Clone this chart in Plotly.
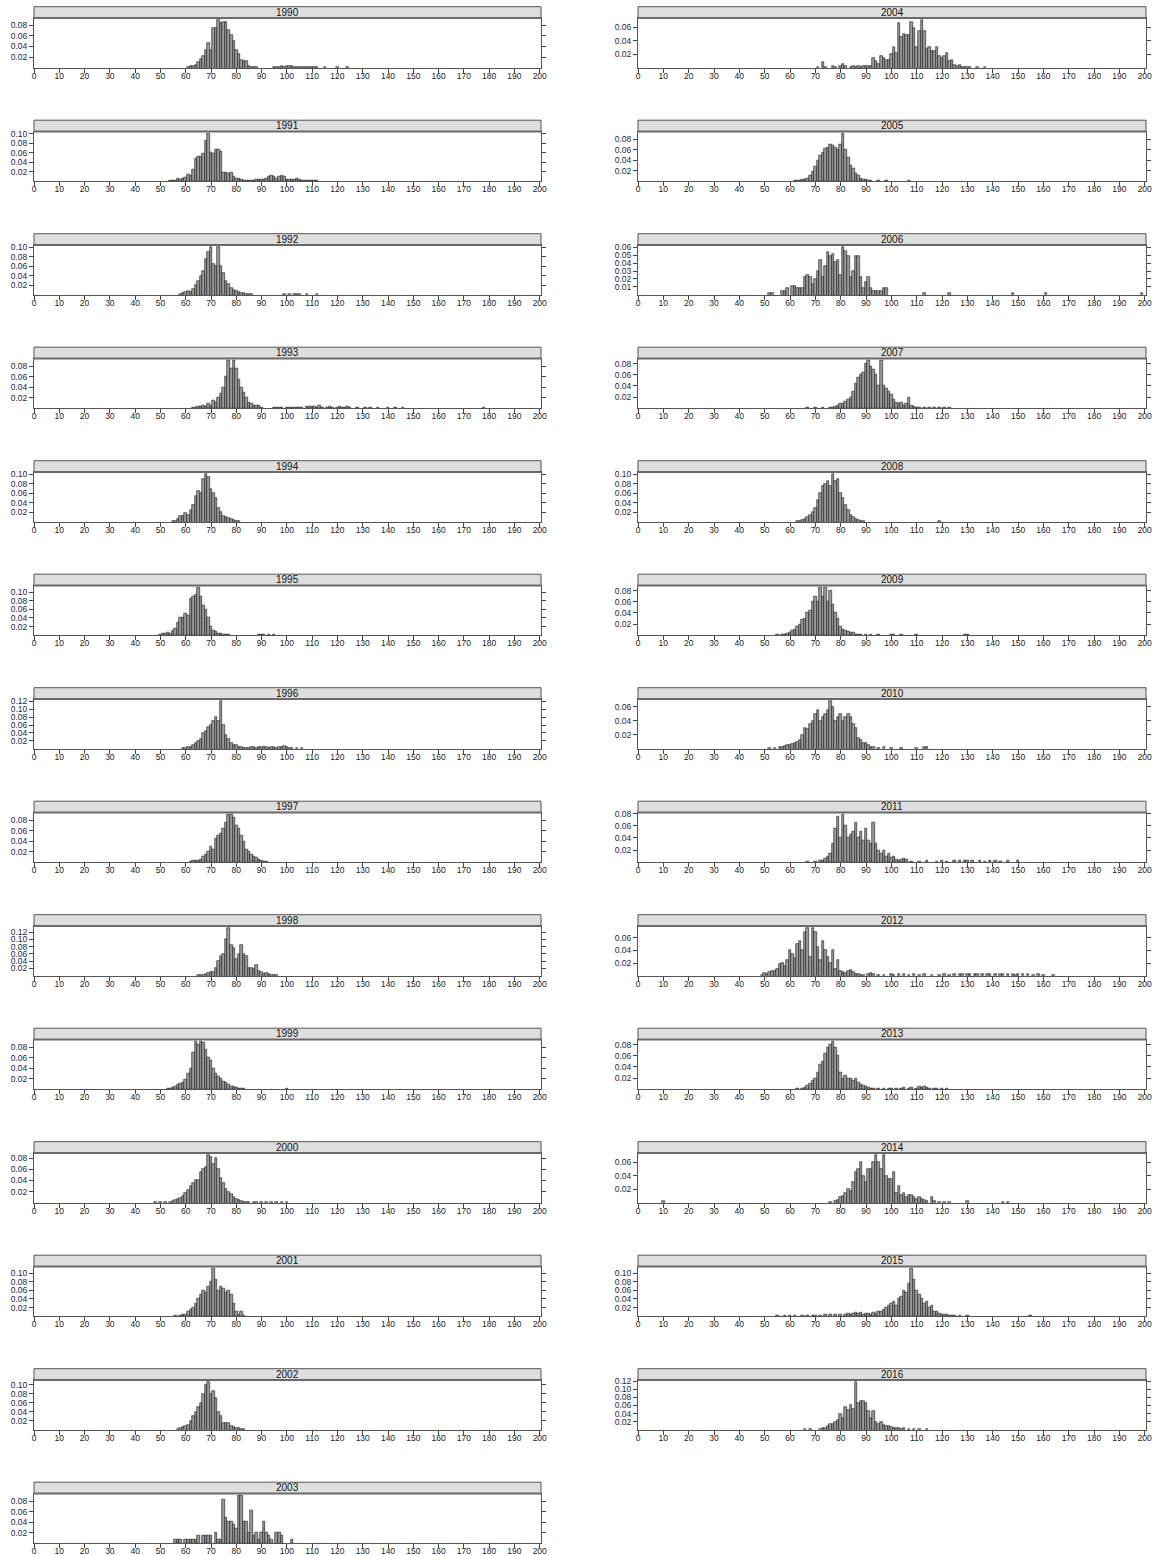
import plotly.graph_objects as go

# ---------------- data: length (cm) and relative frequency per year ----------------
L1990 = [61,62,63,64,65,66,67,68,69,70,71,72,73,74,75,76,77,78,79,80,81,82,83,84,85,86,87,88,95,96,97,98,99,100,101,102,103,104,105,106,107,108,109,110,111,112,115,120,124]
F1990 = [.002,.003,.004,.006,.010,.016,.022,.033,.047,.033,.075,.074,.089,.084,.085,.085,.070,.062,.050,.033,.025,.015,.013,.012,.004,.002,.001,.001,.001,.002,.001,.003,.002,.004,.003,.003,.002,.002,.002,.002,.001,.002,.001,.002,.001,.001,.001,.001,.001]

L1991 = [54,55,56,57,58,59,60,61,62,63,64,65,66,67,68,69,70,71,72,73,74,75,76,77,78,79,80,81,82,83,84,85,86,87,88,89,90,91,92,93,94,95,96,97,98,99,100,101,102,103,104,105,106,107,108,109,110,111,112]
F1991 = [.001,.001,.002,.005,.004,.006,.008,.015,.013,.025,.048,.052,.053,.058,.085,.100,.060,.058,.068,.068,.062,.018,.018,.017,.018,.010,.006,.005,.003,.002,.002,.001,.002,.002,.003,.003,.003,.004,.006,.010,.011,.009,.006,.010,.013,.010,.004,.003,.004,.003,.006,.003,.002,.002,.001,.001,.001,.001,.001]

L1992 = [58,59,60,61,62,63,64,65,66,67,68,69,70,71,72,73,74,75,76,77,78,79,80,81,82,83,84,85,86,99,101,103,104,105,108,112]
F1992 = [.002,.004,.006,.008,.006,.012,.020,.030,.040,.050,.075,.090,.100,.065,.060,.100,.060,.045,.030,.022,.015,.010,.008,.005,.004,.003,.002,.002,.001,.001,.001,.002,.001,.001,.001,.001]

L1993 = [63,64,65,66,67,68,69,70,71,72,73,74,75,76,77,78,79,80,81,82,83,84,85,86,87,88,89,90,95,96,97,98,100,101,102,103,104,105,106,108,109,110,111,112,113,114,116,117,118,120,121,122,123,124,125,128,131,133,136,140,143,146,178]
F1993 = [.002,.002,.003,.004,.005,.004,.008,.006,.015,.010,.020,.028,.040,.060,.090,.075,.090,.075,.055,.040,.030,.020,.010,.008,.006,.005,.006,.002,.001,.002,.002,.001,.001,.002,.002,.001,.002,.001,.002,.004,.003,.004,.003,.002,.005,.002,.002,.003,.001,.001,.003,.002,.001,.004,.002,.002,.001,.001,.001,.001,.001,.001,.002]

L1994 = [55,56,57,58,59,60,61,62,63,64,65,66,67,68,69,70,71,72,73,74,75,76,77,78,79,80,81]
F1994 = [.001,.002,.005,.012,.013,.018,.015,.025,.035,.055,.065,.060,.090,.100,.095,.070,.060,.050,.030,.020,.012,.010,.008,.005,.003,.002,.001]

L1995 = [50,51,52,53,54,55,56,57,58,59,60,61,62,63,64,65,66,67,68,69,70,71,72,73,74,75,76,77,89,90,91,93,95]
F1995 = [.001,.003,.005,.007,.005,.010,.015,.030,.040,.040,.050,.045,.085,.090,.095,.110,.090,.070,.060,.040,.020,.010,.008,.004,.003,.002,.001,.001,.001,.002,.002,.001,.001]

L1996 = [59,60,61,62,63,64,65,66,67,68,69,70,71,72,73,74,75,76,77,78,79,80,81,82,83,84,85,86,87,88,89,90,91,92,93,94,95,96,97,98,99,100,101,102,104,106]
F1996 = [.001,.002,.004,.005,.010,.015,.020,.025,.040,.045,.055,.060,.070,.080,.070,.120,.060,.035,.025,.015,.010,.010,.005,.004,.003,.003,.002,.005,.004,.003,.004,.005,.004,.005,.003,.005,.004,.003,.005,.004,.006,.004,.002,.001,.001,.001]

L1997 = [62,63,64,65,66,67,68,69,70,71,72,73,74,75,76,77,78,79,80,81,82,83,84,85,86,87,88,89,90,91,92]
F1997 = [.002,.003,.004,.004,.006,.010,.015,.020,.030,.025,.045,.050,.055,.065,.075,.090,.090,.085,.070,.065,.050,.040,.025,.020,.015,.010,.008,.005,.003,.002,.001]

L1998 = [65,66,67,68,69,70,71,72,73,74,75,76,77,78,79,80,81,82,83,84,85,86,87,88,89,90,91,92,93,94,95,96]
F1998 = [.001,.002,.003,.005,.008,.010,.010,.020,.040,.055,.060,.100,.130,.085,.075,.045,.060,.085,.060,.055,.020,.020,.018,.030,.012,.010,.006,.008,.005,.003,.002,.001]

L1999 = [53,54,55,56,57,58,59,60,61,62,63,64,65,66,67,68,69,70,71,72,73,74,75,76,77,78,79,80,81,82,83,100]
F1999 = [.001,.002,.004,.006,.008,.010,.012,.018,.030,.040,.070,.090,.085,.090,.088,.075,.060,.055,.040,.030,.025,.020,.015,.012,.008,.006,.005,.003,.002,.001,.001,.001]

L2000 = [48,50,52,54,55,56,57,58,59,60,61,62,63,64,65,66,67,68,69,70,71,72,73,74,75,76,77,78,79,80,81,82,83,84,85,87,88,90,92,94,96,98,100]
F2000 = [.001,.001,.002,.002,.003,.005,.006,.008,.012,.018,.022,.030,.035,.040,.040,.055,.060,.065,.085,.082,.070,.080,.060,.045,.035,.025,.020,.015,.010,.006,.004,.003,.002,.002,.001,.002,.001,.002,.001,.001,.002,.001,.001]

L2001 = [56,58,59,60,61,62,63,64,65,66,67,68,69,70,71,72,73,74,75,76,77,78,79,80,81,82,83]
F2001 = [.001,.002,.004,.005,.010,.015,.020,.030,.040,.050,.060,.055,.070,.080,.110,.085,.060,.070,.065,.055,.060,.050,.030,.010,.005,.012,.002]

L2002 = [57,58,59,60,61,62,63,64,65,66,67,68,69,70,71,72,73,74,75,76,77,78,79,80,81,82,83]
F2002 = [.002,.004,.005,.008,.010,.020,.030,.040,.050,.060,.080,.100,.105,.080,.085,.070,.040,.030,.015,.015,.015,.008,.005,.004,.003,.002,.001]

L2003 = [56,57,58,60,61,62,63,64,65,67,68,69,70,72,73,74,75,76,77,78,79,80,81,82,83,84,85,86,87,88,89,90,91,92,93,94,96,97,98,102]
F2003 = [.007,.007,.007,.007,.007,.007,.007,.007,.014,.014,.014,.014,.014,.021,.007,.007,.083,.049,.042,.042,.035,.028,.090,.090,.042,.042,.021,.063,.014,.021,.007,.021,.042,.021,.014,.007,.021,.021,.014,.007]

L2004 = [71,73,74,77,78,80,81,82,84,85,86,87,88,89,90,91,92,93,94,95,96,97,98,99,100,101,102,103,104,105,106,107,108,109,110,111,112,113,114,115,116,117,118,119,120,121,122,123,124,125,126,127,128,129,130,131,134,137]
F2004 = [.001,.008,.001,.002,.001,.002,.005,.002,.001,.002,.001,.002,.001,.003,.002,.003,.002,.015,.010,.005,.018,.015,.012,.012,.020,.030,.022,.066,.045,.050,.048,.048,.067,.058,.030,.055,.070,.055,.028,.030,.025,.024,.030,.018,.014,.018,.022,.010,.011,.004,.002,.004,.001,.001,.001,.001,.001,.001]

L2005 = [62,63,64,65,66,67,68,69,70,71,72,73,74,75,76,77,78,79,80,81,82,83,84,85,86,87,88,89,90,91,92,95,98,107]
F2005 = [.001,.001,.002,.003,.004,.006,.010,.018,.028,.040,.048,.055,.062,.065,.070,.068,.065,.060,.070,.090,.060,.045,.030,.025,.015,.010,.006,.004,.003,.002,.001,.001,.001,.001]

L2006 = [52,53,57,58,59,61,62,63,64,65,66,67,68,69,70,71,72,73,74,75,76,77,78,79,80,81,82,83,84,85,86,87,88,89,90,91,92,93,94,95,96,97,98,113,123,148,161,199]
F2006 = [.002,.002,.005,.005,.008,.011,.011,.008,.008,.008,.022,.025,.022,.013,.020,.030,.044,.022,.036,.054,.049,.051,.041,.044,.025,.060,.056,.049,.022,.030,.049,.049,.022,.008,.016,.022,.008,.005,.005,.005,.005,.008,.008,.002,.002,.002,.002,.002]

L2007 = [67,70,73,76,77,78,79,80,81,82,83,84,85,86,87,88,89,90,91,92,93,94,95,96,97,98,99,100,101,102,103,104,105,106,107,108,109,110,111,113,115,117,119,121,123]
F2007 = [.001,.001,.001,.001,.002,.003,.005,.008,.008,.012,.015,.020,.030,.045,.055,.060,.065,.080,.085,.075,.070,.060,.040,.085,.040,.035,.030,.025,.015,.010,.008,.010,.005,.008,.020,.005,.003,.002,.001,.001,.002,.002,.001,.001,.001]

L2008 = [63,64,65,66,67,68,69,70,71,72,73,74,75,76,77,78,79,80,81,82,83,84,85,86,87,88,89,119]
F2008 = [.001,.002,.003,.005,.010,.015,.020,.030,.045,.060,.075,.080,.085,.075,.100,.085,.090,.060,.050,.035,.025,.015,.010,.006,.003,.002,.001,.001]

L2009 = [55,57,58,59,60,61,62,63,64,65,66,67,68,69,70,71,72,73,74,75,76,77,78,79,80,81,82,83,84,85,86,87,88,90,92,95,100,101,104,110,129,130]
F2009 = [.001,.002,.002,.003,.005,.008,.010,.015,.020,.028,.030,.040,.045,.060,.070,.060,.085,.070,.085,.060,.080,.055,.040,.030,.015,.010,.008,.006,.005,.004,.002,.002,.001,.001,.001,.001,.001,.001,.001,.001,.002,.001]

L2010 = [52,54,56,57,58,59,60,61,62,63,64,65,66,67,68,69,70,71,72,73,74,75,76,77,78,79,80,81,82,83,84,85,86,87,88,89,90,91,92,93,95,97,100,104,110,113,114]
F2010 = [.001,.001,.002,.003,.004,.005,.006,.007,.008,.010,.012,.020,.030,.028,.035,.040,.050,.055,.040,.045,.050,.055,.068,.060,.040,.045,.050,.040,.045,.050,.045,.035,.030,.015,.012,.008,.008,.006,.003,.002,.001,.002,.001,.001,.001,.003,.002]

L2011 = [67,70,72,73,74,75,76,77,78,79,80,81,82,83,84,85,86,87,88,89,90,91,92,93,94,95,96,97,98,99,100,101,102,103,104,105,106,108,111,114,118,120,122,125,127,129,130,132,135,137,139,141,143,146,150]
F2011 = [.001,.001,.002,.003,.006,.010,.015,.030,.055,.075,.040,.078,.060,.040,.045,.050,.065,.040,.050,.035,.055,.035,.030,.065,.030,.020,.015,.020,.010,.015,.008,.010,.005,.003,.004,.006,.004,.001,.001,.002,.001,.002,.001,.002,.003,.002,.002,.002,.002,.001,.002,.002,.001,.002,.002]

L2012 = [49,50,51,52,53,54,55,56,57,58,59,60,61,62,63,64,65,66,67,68,69,70,71,72,73,74,75,76,77,78,79,80,81,82,83,84,85,86,87,88,89,91,92,93,95,97,100,101,103,105,107,109,111,113,116,119,121,123,125,127,128,130,131,133,134,136,138,139,141,143,144,146,148,149,150,152,154,156,158,160,164]
F2012 = [.001,.004,.003,.006,.008,.007,.010,.018,.020,.015,.025,.040,.035,.028,.050,.055,.040,.070,.075,.030,.075,.070,.045,.025,.055,.040,.030,.020,.040,.010,.025,.008,.006,.005,.007,.009,.006,.003,.002,.001,.001,.003,.005,.002,.001,.001,.002,.001,.002,.002,.001,.002,.001,.002,.001,.001,.002,.001,.002,.003,.002,.002,.003,.002,.003,.002,.003,.002,.002,.003,.002,.002,.002,.001,.002,.002,.002,.001,.002,.001,.001]

L2013 = [63,65,66,67,68,69,70,71,72,73,74,75,76,77,78,79,80,81,82,83,84,85,86,87,88,89,90,91,92,93,95,97,99,100,102,104,105,107,108,110,111,112,113,114,115,117,118,120,122]
F2013 = [.001,.002,.003,.006,.010,.015,.020,.030,.045,.050,.065,.075,.080,.085,.075,.060,.030,.020,.025,.020,.020,.015,.020,.012,.008,.006,.004,.003,.002,.002,.001,.001,.001,.001,.001,.002,.003,.002,.003,.002,.004,.003,.004,.003,.002,.001,.001,.002,.002]

L2014 = [10,76,78,79,80,81,82,83,84,85,86,87,88,89,90,91,92,93,94,95,96,97,98,99,100,101,102,103,104,105,106,107,108,109,110,111,112,113,114,116,117,119,121,123,130,144,146]
F2014 = [.002,.001,.002,.004,.008,.010,.015,.020,.018,.030,.045,.050,.060,.040,.030,.050,.050,.060,.070,.060,.050,.070,.040,.035,.035,.045,.015,.025,.012,.015,.008,.012,.012,.008,.006,.008,.005,.004,.003,.008,.002,.001,.001,.001,.002,.001,.001]

L2015 = [55,58,60,62,65,67,69,70,72,74,76,78,80,82,83,84,85,86,87,88,89,90,91,92,93,94,95,96,97,98,99,100,101,102,103,104,105,106,107,108,109,110,111,112,113,114,115,116,117,118,119,120,121,122,123,124,125,127,130,155]
F2015 = [.001,.001,.001,.001,.001,.002,.001,.002,.002,.003,.003,.004,.004,.005,.006,.005,.007,.008,.006,.008,.005,.006,.007,.005,.008,.006,.010,.012,.015,.020,.025,.030,.035,.025,.040,.045,.060,.055,.075,.110,.085,.060,.050,.040,.030,.035,.020,.025,.012,.010,.006,.004,.003,.003,.002,.002,.002,.001,.001,.002]

L2016 = [66,68,72,73,74,75,76,77,78,79,80,81,82,83,84,85,86,87,88,89,90,91,92,93,94,95,96,97,98,99,100,101,102,103,104,105,107,109,111,114]
F2016 = [.001,.001,.002,.003,.005,.010,.013,.015,.020,.025,.040,.030,.055,.048,.060,.050,.117,.065,.070,.072,.065,.045,.030,.045,.020,.015,.020,.012,.010,.008,.006,.005,.004,.003,.002,.003,.002,.002,.001,.001]

X_TICKS = list(range(0, 201, 10))

panels = [
    (1990, L1990, F1990), (1991, L1991, F1991), (1992, L1992, F1992), (1993, L1993, F1993),
    (1994, L1994, F1994), (1995, L1995, F1995), (1996, L1996, F1996), (1997, L1997, F1997),
    (1998, L1998, F1998), (1999, L1999, F1999), (2000, L2000, F2000), (2001, L2001, F2001),
    (2002, L2002, F2002), (2003, L2003, F2003), (2004, L2004, F2004), (2005, L2005, F2005),
    (2006, L2006, F2006), (2007, L2007, F2007), (2008, L2008, F2008), (2009, L2009, F2009),
    (2010, L2010, F2010), (2011, L2011, F2011), (2012, L2012, F2012), (2013, L2013, F2013),
    (2014, L2014, F2014), (2015, L2015, F2015), (2016, L2016, F2016),
]

# ---------------- layout geometry (pixels) ----------------
W, H = 1153, 1555
FONT = "Liberation Sans, Arial, sans-serif"
COLS = [(34, 541), (638, 1146)]
ROW_STEP = 113.5
STRIP_TOP, PLOT_TOP, PLOT_BOT = 6.7, 18.0, 67.7

def px(x):
    return x / W

def py(y):
    return 1 - y / H

fig = go.Figure()
shapes, annotations = [], []
layout_axes = {}

for k, (year, lens, vals) in enumerate(panels):
    col = 0 if k < 14 else 1
    row = k if k < 14 else k - 14
    x0, x1 = COLS[col]
    off = row * ROW_STEP
    st, pt, pb = STRIP_TOP + off, PLOT_TOP + off, PLOT_BOT + off
    n = k + 1
    xa = "x" if n == 1 else f"x{n}"
    ya = "y" if n == 1 else f"y{n}"

    fig.add_trace(go.Bar(
        x=lens, y=vals, width=1, xaxis=xa, yaxis=ya, showlegend=False,
        marker=dict(color="#9a9a9a", line=dict(color="#1a1a1a", width=0.6)),
        hoverinfo="x+y",
    ))

    ymax = max(vals) * 1.05
    dt = 0.01 if year == 2006 else 0.02
    yt = []
    j = 1
    while dt * j <= ymax + 1e-9:
        yt.append(round(dt * j, 3))
        j += 1

    xkey = "xaxis" if n == 1 else f"xaxis{n}"
    ykey = "yaxis" if n == 1 else f"yaxis{n}"
    layout_axes[xkey] = dict(
        domain=[px(x0), px(x1)], anchor=ya, range=[0, 200.5], automargin=False,
        tickmode="array", tickvals=X_TICKS, ticks="outside", ticklen=4,
        ticklabelstandoff=-4,
        tickcolor="#444", tickwidth=1, showgrid=False, zeroline=False,
        showline=True, mirror=True, linecolor="#555", linewidth=1,
        tickfont=dict(size=8.5, color="#222", family=FONT), fixedrange=True,
    )
    layout_axes[ykey] = dict(
        domain=[py(pb), py(pt)], anchor=xa, range=[0, ymax], automargin=False,
        tickmode="array", tickvals=yt, tickformat=".2f", ticks="outside",
        ticklen=4, tickcolor="#444", tickwidth=1, showgrid=False, zeroline=False,
        showline=True, mirror="ticks", linecolor="#555", linewidth=1,
        tickfont=dict(size=8.5, color="#1a2550", family=FONT), fixedrange=True,
    )

    # strip
    shapes.append(dict(type="rect", xref="paper", yref="paper",
                       x0=px(x0), x1=px(x1), y0=py(pt), y1=py(st),
                       fillcolor="#dedede", line=dict(color="#555", width=1), layer="above"))
    shapes.append(dict(type="line", xref="paper", yref="paper",
                       x0=px(x0), x1=px(x1), y0=py(pt), y1=py(pt),
                       line=dict(color="#6a6a6a", width=2), layer="above"))
    annotations.append(dict(text=str(year), xref="paper", yref="paper",
                            x=px((x0 + x1) / 2), y=py((st + pt) / 2),
                            xanchor="center", yanchor="middle", showarrow=False,
                            font=dict(size=10, color="#111", family=FONT)))

fig.update_layout(
    width=W, height=H, margin=dict(l=0, r=0, t=0, b=0, pad=0, autoexpand=False),
    paper_bgcolor="white", plot_bgcolor="white", bargap=0,
    shapes=shapes, annotations=annotations, showlegend=False,
    font=dict(family=FONT),
    **layout_axes,
)

fig.write_html("out.html", config={"displayModeBar": False},
               post_script="document.body.style.margin='0';")
